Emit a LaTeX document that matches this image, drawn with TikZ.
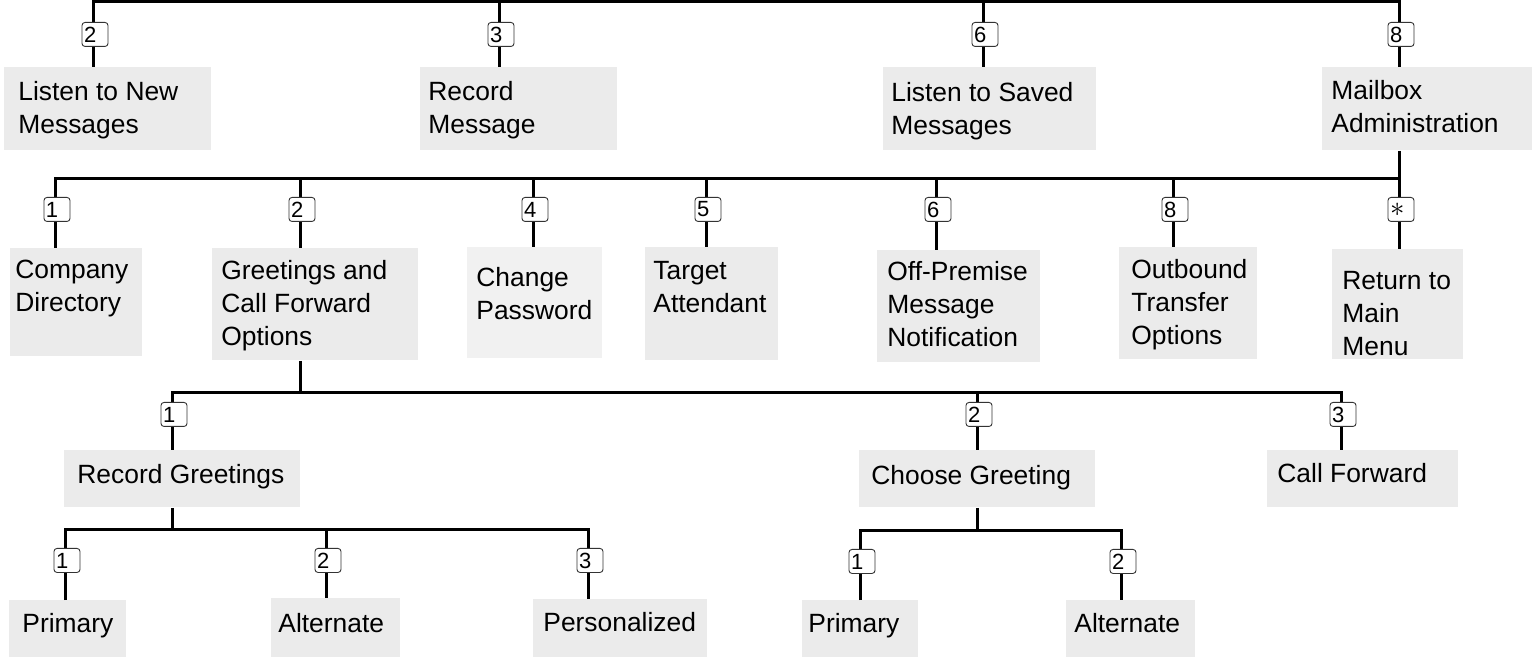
\documentclass[tikz,border=0pt]{standalone}
\usepackage{fontspec}
\setmainfont{Liberation Sans}
\usetikzlibrary{positioning}
\definecolor{boxgray}{RGB}{235,235,235}
\definecolor{boxlight}{RGB}{241,241,241}

\begin{document}
\begin{tikzpicture}[
                x=0.5pt, y=-0.5pt,
                menubox/.style={
                    fill=boxgray,
                    anchor=north west,
                    inner sep=0pt,
                },
                menutext/.style={
                    inner sep=0pt,
                    align=left,
                    font=\fontsize{13.2}{16.5}\selectfont,
                },
                keycap/.style={
                    draw=black!80,
                    fill=white,
                    rounded corners=1.5pt,
                    line width=0.45pt,
                    inner xsep=1pt, inner ysep=0pt,
                    text width=11pt, minimum height=12pt,
                    align=left,
                    font=\fontsize{11}{11}\selectfont,
                    xshift=1pt,
                },
                wire/.style={line width=1.5pt},
            ]
            \useasboundingbox (0,0) rectangle (1532,657);

            % main menu
            \node [menubox, minimum width=103.5pt, minimum height=41.5pt] (lnm) at (4,67) {};
            \node [menubox, minimum width=98.5pt, minimum height=41.5pt] (rm) at (420,67) {};
            \node [menubox, minimum width=106.5pt, minimum height=41.5pt] (lsm) at (883,67) {};
            \node [menubox, minimum width=105pt, minimum height=41.5pt] (mba) at (1322,67) {};
            \node [menutext, below right=7pt and 7pt of lnm.north west] (lnm-t) {Listen to New\\Messages};
            \node [menutext, below right=7pt and 4pt of rm.north west] (rm-t) {Record\\Message};
            \node [menutext, below right=7.5pt and 4pt of lsm.north west] (lsm-t) {Listen to Saved\\Messages};
            \node [menutext, below right=6.5pt and 4.5pt of mba.north west] (mba-t) {Mailbox\\Administration};

            % mailbox administration
            \node [menubox, minimum width=66pt, minimum height=54pt] (cd) at (10,248) {};
            \node [menubox, minimum width=103pt, minimum height=56pt] (gcf) at (212,248) {};
            \node [menubox, fill=boxlight, minimum width=67.5pt, minimum height=55.5pt] (cp) at (467,247) {};
            \node [menubox, minimum width=66.5pt, minimum height=56.5pt] (ta) at (645,247) {};
            \node [menubox, minimum width=81.5pt, minimum height=56pt] (opm) at (877,250) {};
            \node [menubox, minimum width=69pt, minimum height=56pt] (otf) at (1119,247) {};
            \node [menubox, minimum width=65.5pt, minimum height=55pt] (rmm) at (1332,249) {};
            \node [menutext, below right=6pt and 2.5pt of cd.north west] (cd-t) {Company\\Directory};
            \node [menutext, below right=6pt and 4.5pt of gcf.north west] (gcf-t) {Greetings and\\Call Forward\\Options};
            \node [menutext, below right=10pt and 4.5pt of cp.north west] (cp-t) {Change\\Password};
            \node [menutext, below right=7pt and 4pt of ta.north west] (ta-t) {Target\\Attendant};
            \node [menutext, below right=5.5pt and 5pt of opm.north west] (opm-t) {Off-Premise\\Message\\Notification};
            \node [menutext, below right=6pt and 6pt of otf.north west] (otf-t) {Outbound\\Transfer\\Options};
            \node [menutext, below right=11pt and 5pt of rmm.north west] (rmm-t) {Return to\\Main\\Menu};

            % greetings and call forward
            \node [menubox, minimum width=118pt, minimum height=28.5pt] (rg) at (64,450) {};
            \node [menubox, minimum width=118pt, minimum height=28.5pt] (cg) at (859,450) {};
            \node [menubox, minimum width=95.5pt, minimum height=28.5pt] (cf) at (1267,450) {};
            \node [menutext, below right=7pt and 6.5pt of rg.north west] (rg-t) {Record Greetings};
            \node [menutext, below right=7.5pt and 6pt of cg.north west] (cg-t) {Choose Greeting};
            \node [menutext, below right=6.5pt and 5pt of cf.north west] (cf-t) {Call Forward};

            % greetings
            \node [menubox, minimum width=58.5pt, minimum height=28.5pt] (p1) at (9,600) {};
            \node [menubox, minimum width=64.5pt, minimum height=29.5pt] (a1) at (271,598) {};
            \node [menubox, minimum width=87pt, minimum height=29pt] (pz) at (533,599) {};
            \node [menubox, minimum width=58pt, minimum height=28.5pt] (p2) at (802,600) {};
            \node [menubox, minimum width=64.5pt, minimum height=28.5pt] (a2) at (1066,600) {};
            \node [menutext, below right=6.5pt and 6.5pt of p1.north west] (p1-t) {Primary};
            \node [menutext, below right=7.5pt and 3.5pt of a1.north west] (a1-t) {Alternate};
            \node [menutext, below right=6.5pt and 5pt of pz.north west] (pz-t) {Personalized};
            \node [menutext, below right=6.5pt and 3pt of p2.north west] (p2-t) {Primary};
            \node [menutext, below right=6.5pt and 4pt of a2.north west] (a2-t) {Alternate};

            % junctions on the lines
            \coordinate (j-lnm) at (93,2);
            \coordinate (j-rm) at (499,2);
            \coordinate (j-lsm) at (983,2);
            \coordinate (j-mba) at (1399,2);
            \coordinate (j-cd) at (55,179);
            \coordinate (j-gcf) at (300,179);
            \coordinate (j-cp) at (533,179);
            \coordinate (j-ta) at (706,179);
            \coordinate (j-opm) at (936,179);
            \coordinate (j-otf) at (1173,179);
            \coordinate (j-rmm) at (1399,179);
            \coordinate (j-rg) at (172,393);
            \coordinate (j-cg) at (977,393);
            \coordinate (j-cf) at (1341,393);
            \coordinate (j-p1) at (65,530);
            \coordinate (j-a1) at (326,530);
            \coordinate (j-pz) at (588,530);
            \coordinate (j-p2) at (860,531);
            \coordinate (j-a2) at (1121,531);

            \draw [wire] (j-lnm |- lnm.north) -- (j-lnm) -- (j-mba) -- (j-mba |- mba.north);
            \draw [wire] (j-rm) -- (j-rm |- rm.north);
            \draw [wire] (j-lsm) -- (j-lsm |- lsm.north);

            \draw [wire] (j-mba |- mba.south) -- (j-rmm) -- (j-rmm |- rmm.north);
            \draw [wire] (j-cd |- cd.north) -- (j-cd) -- (j-rmm);
            \draw [wire] (j-gcf) -- (j-gcf |- gcf.north);
            \draw [wire] (j-cp) -- (j-cp |- cp.north);
            \draw [wire] (j-ta) -- (j-ta |- ta.north);
            \draw [wire] (j-opm) -- (j-opm |- opm.north);
            \draw [wire] (j-otf) -- (j-otf |- otf.north);

            \draw [wire] (j-gcf |- gcf.south) -- (j-gcf |- j-rg);
            \draw [wire] (j-rg |- rg.north) -- (j-rg) -- (j-cf) -- (j-cf |- cf.north);
            \draw [wire] (j-cg) -- (j-cg |- cg.north);

            \draw [wire] (j-rg |- rg.south) -- (j-rg |- j-p1);
            \draw [wire] (j-p1 |- p1.north) -- (j-p1) -- (j-pz) -- (j-pz |- pz.north);
            \draw [wire] (j-a1) -- (j-a1 |- a1.north);
            \draw [wire] (j-cg |- cg.south) -- (j-cg |- j-p2);
            \draw [wire] (j-p2 |- p2.north) -- (j-p2) -- (j-a2) -- (j-a2 |- a2.north);

            % keys
            \node [keycap, below=10pt of j-lnm] (k-lnm) {2};
            \node [keycap, below=10pt of j-rm] (k-rm) {3};
            \node [keycap, below=10pt of j-lsm] (k-lsm) {6};
            \node [keycap, below=10pt of j-mba] (k-mba) {8};
            \node [keycap, below=9pt of j-cd] (k-cd) {1};
            \node [keycap, below=9pt of j-gcf] (k-gcf) {2};
            \node [keycap, below=9pt of j-cp] (k-cp) {4};
            \node [keycap, below=9pt of j-ta] (k-ta) {5};
            \node [keycap, below=9pt of j-opm] (k-opm) {6};
            \node [keycap, below=9pt of j-otf] (k-otf) {8};
            \node [keycap, below=9pt of j-rmm] (k-rmm) {\fontsize{15}{15}\selectfont$\ast$};
            \node [keycap, below=4.5pt of j-rg] (k-rg) {1};
            \node [keycap, below=4.5pt of j-cg] (k-cg) {2};
            \node [keycap, below=4.5pt of j-cf] (k-cf) {3};
            \node [keycap, below=9pt of j-p1] (k-p1) {1};
            \node [keycap, below=9pt of j-a1] (k-a1) {2};
            \node [keycap, below=9pt of j-pz] (k-pz) {3};
            \node [keycap, below=9pt of j-p2] (k-p2) {1};
            \node [keycap, below=9pt of j-a2] (k-a2) {2};
        \end{tikzpicture}
\end{document}
